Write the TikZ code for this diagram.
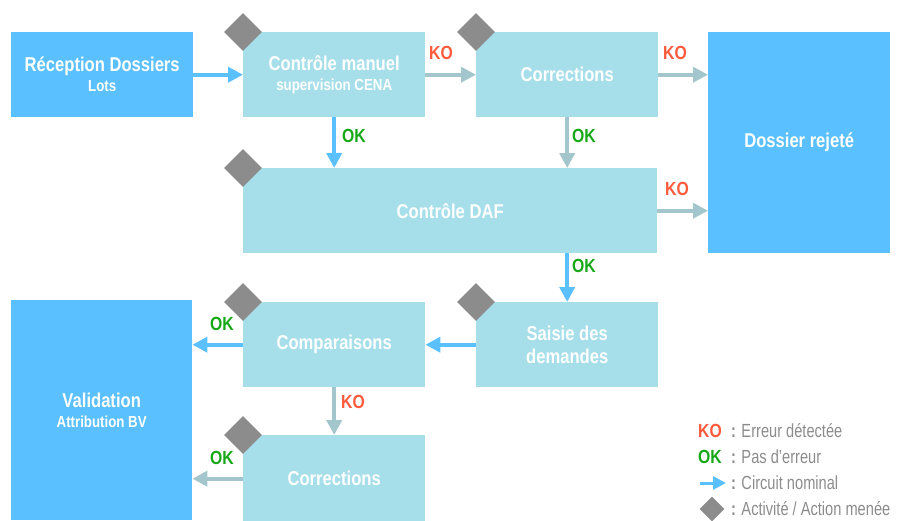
\documentclass[tikz,border=0pt]{standalone}
\usepackage{fontspec}
\newfontfamily\condb[FakeStretch=0.83]{Liberation Sans}
\newfontfamily\condl[FakeStretch=0.77]{Liberation Sans}
\usetikzlibrary{arrows.meta,shapes.geometric}
\definecolor{bluebox}{HTML}{5BC0FF}
\definecolor{lightbox}{HTML}{A6DFEA}
\definecolor{dgray}{HTML}{8C8C8C}
\definecolor{garrow}{HTML}{A3C5CC}
\definecolor{kored}{HTML}{FF5A3C}
\definecolor{okgreen}{HTML}{17A817}
\definecolor{legtxt}{HTML}{8C8C8C}
\tikzset{
  box/.style={draw=none, fill=lightbox, minimum width=182pt, minimum height=85pt, inner sep=0pt,
    anchor=north west, text=white, align=center, font=\condb\bfseries\fontsize{20}{23}\selectfont},
  bbox/.style={box, fill=bluebox},
  actdiamond/.style={diamond, fill=dgray, minimum width=38pt, minimum height=38pt, inner sep=0pt},
  barr/.style={draw=bluebox, line width=4pt, -{Triangle[length=15pt,width=15pt,fill=bluebox]}},
  garr/.style={draw=garrow, line width=4pt, -{Triangle[length=15pt,width=15pt,fill=garrow]}},
  kolab/.style={text=kored, font=\condb\bfseries\fontsize{19}{19}\selectfont, inner sep=0pt},
  oklab/.style={text=okgreen, font=\condb\bfseries\fontsize{19}{19}\selectfont, inner sep=0pt},
  legtext/.style={text=legtxt, font=\condl\fontsize{19}{19}\selectfont, inner sep=0pt, anchor=west},
}
\newcommand{\subtxt}[1]{{\fontsize{16}{18}\selectfont #1}}
\begin{document}
\begin{tikzpicture}[x=1pt,y=-1pt]
\useasboundingbox (0,0) rectangle (900,520);
\clip (0,0) rectangle (900,520);
% boxes
\node[bbox] (rec) at (11,32) {Réception Dossiers\\[-3pt]\subtxt{Lots}};
\node[box] (cm) at (243,32) {Contrôle manuel\\[-3pt]\subtxt{supervision CENA}};
\node[box] (co1) at (476,32) {Corrections};
\node[bbox, minimum height=221pt] (rej) at (708,32) {Dossier rejeté};
\node[box, minimum width=414pt] (daf) at (243,168) {Contrôle DAF};
\node[box] (sai) at (476,302) {Saisie des\\demandes};
\node[box] (cmp) at (243,302) {Comparaisons};
\node[bbox, minimum height=220pt, minimum width=181pt] (val) at (11,300) {Validation\\[-3pt]\subtxt{Attribution BV}};
\node[box, minimum height=87pt] (co2) at (243,435) {Corrections};
% activity diamonds
\node[actdiamond] (d1) at (cm.north west) {};
\node[actdiamond] (d2) at (co1.north west) {};
\node[actdiamond] (d3) at (daf.north west) {};
\node[actdiamond] (d4) at (sai.north west) {};
\node[actdiamond] (d5) at (cmp.north west) {};
\node[actdiamond] (d6) at (co2.north west) {};
% connectors
\draw[barr] (rec.east) -- (cm.west);
\draw[garr] (cm.east) -- (co1.west);
\draw[garr] (co1.east) -- (co1.east -| rej.west);
\draw[barr] (cm.south) -- (cm.south |- daf.north);
\draw[garr] (co1.south) -- (co1.south |- daf.north);
\draw[garr] (daf.east) -- (daf.east -| rej.west);
\draw[barr] (sai.north |- daf.south) -- (sai.north);
\draw[barr] (sai.west) -- (cmp.east);
\draw[barr] (cmp.west) -- (cmp.west -| val.east);
\draw[garr] (cmp.south) -- (co2.north);
\draw[garr] (co2.west) -- (co2.west -| val.east);
% labels
\node[kolab] (ko1) at (441,53) {KO};
\node[kolab] (ko2) at (675,53) {KO};
\node[kolab] (ko3) at (677,189) {KO};
\node[kolab] (ko4) at (353,402) {KO};
\node[oklab] (ok1) at (354,136) {OK};
\node[oklab] (ok2) at (584,136) {OK};
\node[oklab] (ok3) at (584,266) {OK};
\node[oklab] (ok4) at (222,324) {OK};
\node[oklab] (ok5) at (222,458) {OK};
% legend
\node[kolab, anchor=west] (lk) at (698,431) {KO};
\node[legtext] (lt1) at (731,431) {\textbf{:} Erreur détectée};
\node[oklab, anchor=west] (lo) at (698,457) {OK};
\node[legtext] (lt2) at (731,457) {\textbf{:} Pas d’erreur};
\coordinate (la1) at (700,483);
\coordinate (la2) at (726,483);
\draw[draw=bluebox, line width=3pt, -{Triangle[length=13pt,width=13pt,fill=bluebox]}] (la1) -- (la2);
\node[legtext] (lt3) at (731,483) {\textbf{:} Circuit nominal};
\node[actdiamond, minimum width=25pt, minimum height=25pt] (ld) at (712,509) {};
\node[legtext] (lt4) at (731,509) {\textbf{:} Activité / Action menée};
\end{tikzpicture}
\end{document}
